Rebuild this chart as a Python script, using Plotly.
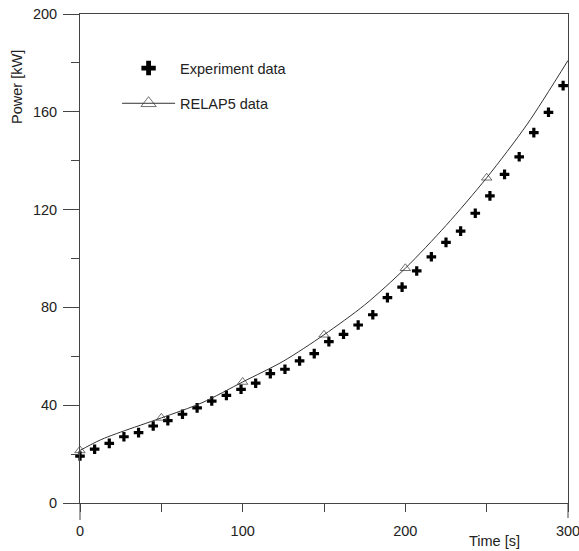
import plotly.graph_objects as go

# Experiment data (time [s], power [kW])
exp_time = [0, 9, 18, 27, 36, 45, 54, 63, 72, 81, 90, 99, 108, 117, 126, 135, 144,
            153, 162, 171, 180, 189, 198, 207, 216, 225, 234, 243, 252, 261, 270,
            279, 288, 297]
exp_power = [19.2, 22.0, 24.4, 27.1, 28.8, 31.5, 33.7, 36.3, 38.9, 41.7, 44.0, 46.5,
             49.0, 52.9, 54.7, 58.1, 61.1, 66.0, 69.0, 72.8, 77.0, 84.0, 88.3, 94.9,
             100.7, 106.6, 111.2, 118.5, 125.6, 134.4, 141.6, 151.5, 159.8, 170.7]

# RELAP5 calculation
relap_time = [0, 10, 15, 25, 50, 75, 100, 125, 150, 175, 200, 225, 250, 275, 300]
relap_power = [21.5, 25.0, 26.5, 29.0, 34.8, 41.0, 49.5, 58.0, 68.8, 81.0, 96.0,
               113.5, 133.0, 155.0, 181.0]
relap_marker_time = [0, 50, 100, 150, 200, 250]

x_ticks = [0, 100, 200, 300]
y_ticks = [0, 40, 80, 120, 160, 200]

FONT = "Liberation Sans, Arial, Helvetica, sans-serif"
FS = 14.5
AX = "#444444"
TXT = "#222222"

is_mark = [t in relap_marker_time for t in relap_time]
mark_colors = ["#333333" if m else "rgba(0,0,0,0)" for m in is_mark]
# hidden points get a larger size so the legend symbol (mean size) is legible
mark_sizes = [9 if m else 16 for m in is_mark]

fig = go.Figure()
fig.add_trace(go.Scatter(
    x=exp_time, y=exp_power, mode="markers", name="Experiment data",
    marker=dict(symbol="cross", size=8, color="black", line=dict(width=0)),
    cliponaxis=False, legend="legend",
))
fig.add_trace(go.Scatter(
    x=relap_time, y=relap_power, mode="lines+markers", name="RELAP5 data",
    line=dict(color="#333333", width=1, shape="spline", smoothing=0.8),
    marker=dict(symbol="triangle-up-open", size=mark_sizes, color=mark_colors,
                line=dict(width=1, color=mark_colors)),
    cliponaxis=False, legend="legend2",
))

axis_common = dict(
    showline=True, linecolor=AX, linewidth=1, mirror=True, automargin=False,
    showgrid=False, zeroline=False, ticks="outside", tickcolor=AX, tickwidth=1,
    tickfont=dict(family=FONT, size=FS, color=TXT), ticklabeloverflow="allow",
)

fig.update_xaxes(range=[0, 300], tickvals=x_ticks, ticklen=8, ticklabelstandoff=7,
                 minor=dict(dtick=50, ticklen=8, ticks="outside", tickcolor=AX, tickwidth=1),
                 **axis_common)
fig.update_yaxes(range=[0, 200], tickvals=y_ticks, ticklen=16, ticklabelstandoff=3,
                 minor=dict(dtick=20, ticklen=8, ticks="outside", tickcolor=AX, tickwidth=1),
                 **axis_common)

legend_common = dict(
    font=dict(family=FONT, size=FS, color=TXT), bgcolor="rgba(0,0,0,0)",
    itemwidth=53, xanchor="left", yanchor="top", visible=True,
)

fig.update_layout(
    width=579, height=551,
    margin=dict(l=80, r=11, t=14, b=48),
    paper_bgcolor="white", plot_bgcolor="white",
    font=dict(family=FONT, size=FS, color=TXT),
    showlegend=True,
    legend=dict(x=0.076, y=0.922, itemsizing="constant", **legend_common),
    legend2=dict(x=0.076, y=0.850, itemsizing="trace", **legend_common),
    shapes=[
        # frame lines continue below the x-axis at both ends
        dict(type="line", xref="paper", yref="paper", x0=0, x1=0, y0=0, y1=-17 / 489,
             line=dict(color=AX, width=1)),
        dict(type="line", xref="paper", yref="paper", x0=1, x1=1, y0=0, y1=-15 / 489,
             line=dict(color=AX, width=1)),
    ],
    annotations=[
        dict(text="Power [kW]", xref="paper", yref="paper", x=-0.129, y=0.851,
             textangle=-90, showarrow=False, xanchor="center", yanchor="middle",
             font=dict(family=FONT, size=FS, color=TXT)),
        dict(text="Time [s]", xref="paper", yref="paper", x=0.849, y=-0.0777,
             showarrow=False, xanchor="center", yanchor="middle",
             font=dict(family=FONT, size=FS, color=TXT)),
    ],
)

fig.write_html(
    "out.html",
    config={"displayModeBar": False},
    post_script="document.body.style.margin='0px';document.body.style.overflow='hidden';",
)
